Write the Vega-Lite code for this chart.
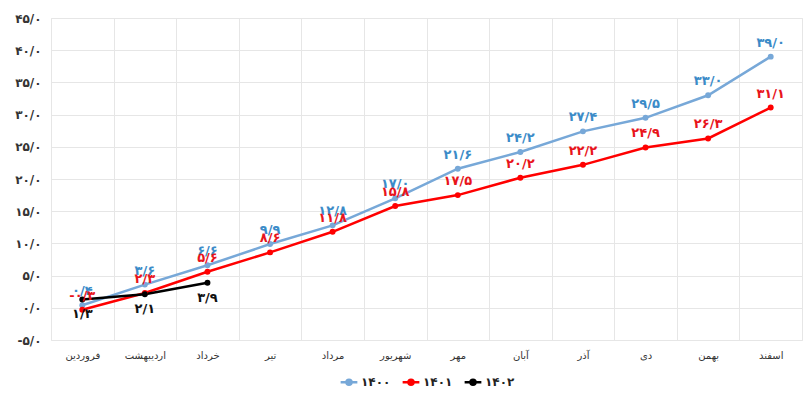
{
  "$schema": "https://vega.github.io/schema/vega-lite/v6.json",
  "width": 751,
  "height": 322,
  "autosize": {"type": "none"},
  "padding": {"left": 51, "top": 18, "right": 10, "bottom": 59},
  "background": "#ffffff",
  "config": {
    "font": "DejaVu Sans",
    "view": {"stroke": "#e6e6e6"},
    "legend": {"layout": {"bottom": {"anchor": "middle"}}}
  },
  "data": {
    "values": [
      {"month": "فروردین", "series": "۱۴۰۰", "v": 0.4},
      {"month": "اردیبهشت", "series": "۱۴۰۰", "v": 3.6},
      {"month": "خرداد", "series": "۱۴۰۰", "v": 6.6},
      {"month": "تیر", "series": "۱۴۰۰", "v": 9.9},
      {"month": "مرداد", "series": "۱۴۰۰", "v": 12.8},
      {"month": "شهریور", "series": "۱۴۰۰", "v": 17.0},
      {"month": "مهر", "series": "۱۴۰۰", "v": 21.6},
      {"month": "آبان", "series": "۱۴۰۰", "v": 24.2},
      {"month": "آذر", "series": "۱۴۰۰", "v": 27.4},
      {"month": "دی", "series": "۱۴۰۰", "v": 29.5},
      {"month": "بهمن", "series": "۱۴۰۰", "v": 33.0},
      {"month": "اسفند", "series": "۱۴۰۰", "v": 39.0},
      {"month": "فروردین", "series": "۱۴۰۱", "v": -0.3},
      {"month": "اردیبهشت", "series": "۱۴۰۱", "v": 2.3},
      {"month": "خرداد", "series": "۱۴۰۱", "v": 5.6},
      {"month": "تیر", "series": "۱۴۰۱", "v": 8.6},
      {"month": "مرداد", "series": "۱۴۰۱", "v": 11.8},
      {"month": "شهریور", "series": "۱۴۰۱", "v": 15.8},
      {"month": "مهر", "series": "۱۴۰۱", "v": 17.5},
      {"month": "آبان", "series": "۱۴۰۱", "v": 20.2},
      {"month": "آذر", "series": "۱۴۰۱", "v": 22.2},
      {"month": "دی", "series": "۱۴۰۱", "v": 24.9},
      {"month": "بهمن", "series": "۱۴۰۱", "v": 26.3},
      {"month": "اسفند", "series": "۱۴۰۱", "v": 31.1},
      {"month": "فروردین", "series": "۱۴۰۲", "v": 1.3},
      {"month": "اردیبهشت", "series": "۱۴۰۲", "v": 2.1},
      {"month": "خرداد", "series": "۱۴۰۲", "v": 3.9}
    ]
  },
  "transform": [
    {
      "calculate": "replace(replace(replace(replace(replace(replace(replace(replace(replace(replace(replace(replace(format(datum.v, '.1f'), regexp('0','g'), '۰'), regexp('1','g'), '۱'), regexp('2','g'), '۲'), regexp('3','g'), '۳'), regexp('4','g'), '۴'), regexp('5','g'), '۵'), regexp('6','g'), '۶'), regexp('7','g'), '۷'), regexp('8','g'), '۸'), regexp('9','g'), '۹'), '.', '/'), '−', '-')",
      "as": "lbl"
    }
  ],
  "encoding": {
    "x": {
      "field": "month",
      "type": "nominal",
      "sort": ["فروردین", "اردیبهشت", "خرداد", "تیر", "مرداد", "شهریور", "مهر", "آبان", "آذر", "دی", "بهمن", "اسفند"],
      "scale": {"type": "band", "paddingInner": 0, "paddingOuter": 0},
      "axis": {
        "title": null,
        "labelAngle": 0,
        "tickBand": "extent",
        "grid": true,
        "gridColor": "#e6e6e6",
        "ticks": false,
        "domain": false,
        "labelFont": "DejaVu Sans",
        "labelFontSize": 10,
        "labelColor": "#333333",
        "labelPadding": 10
      }
    },
    "y": {
      "field": "v",
      "type": "quantitative",
      "scale": {"domain": [-5, 45], "nice": false, "zero": false},
      "axis": {
        "title": null,
        "values": [-5, 0, 5, 10, 15, 20, 25, 30, 35, 40, 45],
        "grid": true,
        "gridColor": "#e6e6e6",
        "ticks": false,
        "domain": false,
        "labelFont": "DejaVu Sans",
        "labelFontSize": 12,
        "labelFontWeight": "bold",
        "labelColor": "#333333",
        "labelPadding": 10,
        "labelExpr": "replace(replace(replace(replace(replace(replace(replace(replace(replace(replace(replace(replace(format(datum.value, '.1f'), regexp('0','g'), '۰'), regexp('1','g'), '۱'), regexp('2','g'), '۲'), regexp('3','g'), '۳'), regexp('4','g'), '۴'), regexp('5','g'), '۵'), regexp('6','g'), '۶'), regexp('7','g'), '۷'), regexp('8','g'), '۸'), regexp('9','g'), '۹'), '.', '/'), '−', '-')"
      }
    }
  },
  "layer": [
    {
      "mark": {"type": "line", "strokeWidth": 2.5},
      "encoding": {
        "color": {
          "field": "series",
          "type": "nominal",
          "scale": {"domain": ["۱۴۰۰", "۱۴۰۱", "۱۴۰۲"], "range": ["#77a8d8", "#ff0000", "#000000"]},
          "legend": {
            "title": null,
            "orient": "bottom",
            "direction": "horizontal",
            "offset": 12,
            "symbolType": "M-1,0H1M-0.3,0A0.3,0.3,0,1,1,0.3,0A0.3,0.3,0,1,1,-0.3,0Z",
            "symbolSize": 280,
            "symbolStrokeWidth": 2.5,
            "labelFont": "DejaVu Sans",
            "labelFontSize": 12,
            "labelFontWeight": "bold",
            "labelColor": "#222222",
            "labelOffset": 2,
            "columnPadding": 6,
            "encode": {
              "symbols": {"update": {"fill": {"scale": "color", "field": "value"}}}
            }
          }
        }
      }
    },
    {
      "mark": {"type": "point", "filled": true, "size": 35, "opacity": 1},
      "encoding": {
        "color": {"field": "series", "type": "nominal"}
      }
    },
    {
      "transform": [{"filter": "datum.series !== '۱۴۰۲'"}],
      "mark": {"type": "text", "dy": -14, "fontSize": 13, "fontWeight": "bold", "font": "DejaVu Sans"},
      "encoding": {
        "text": {"field": "lbl"},
        "fill": {
          "field": "series",
          "type": "nominal",
          "scale": {"domain": ["۱۴۰۰", "۱۴۰۱", "۱۴۰۲"], "range": ["#3b8bc8", "#e8141b", "#111111"]},
          "legend": null
        }
      }
    },
    {
      "transform": [{"filter": "datum.series === '۱۴۰۲'"}],
      "mark": {"type": "text", "dy": 15, "fontSize": 13, "fontWeight": "bold", "font": "DejaVu Sans", "fill": "#111111"},
      "encoding": {
        "text": {"field": "lbl"}
      }
    }
  ]
}
